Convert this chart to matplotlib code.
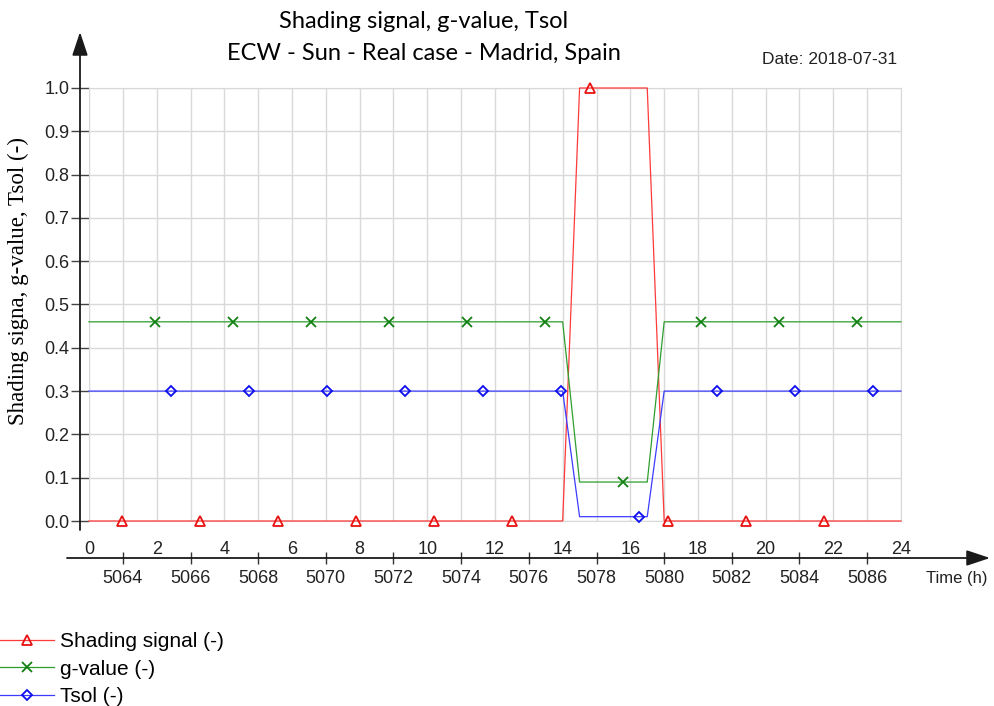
import numpy as np
import matplotlib
matplotlib.use("Agg")
import matplotlib.pyplot as plt
from matplotlib.lines import Line2D
from matplotlib.ticker import FormatStrFormatter, MultipleLocator

# hour of day and the three signals for 2018-07-31
hours = [0, 14, 14.5, 16.5, 17, 24]
shading = [0, 0, 1, 1, 0, 0]
g_value = [0.46, 0.46, 0.09, 0.09, 0.46, 0.46]
tsol = [0.30, 0.30, 0.01, 0.01, 0.30, 0.30]
labels = ["Shading signal (-)", "g-value (-)", "Tsol (-)"]
year_hour0 = 5063  # hour of year at 00:00

W, H = 994, 706


def fx(x):
    return x / W


def fy(y):
    return 1 - y / H


plt.rcParams["font.family"] = ["Liberation Sans", "DejaVu Sans"]

fig = plt.figure(figsize=(W / 100, H / 100), dpi=100)
ax = fig.add_axes([fx(89), fy(521), (901 - 89) / W, (521 - 88) / H])

# line colour, marker colour, marker, size, first marker hour
styles = [
    ("#ff3a3a", "#e81010", "^", 7, 0.975),
    ("#2e9e2e", "#128012", "x", 7, 1.951),
    ("#3c3cff", "#0c0cee", "D", 5.5, 2.424),
]
mark_step = 2.306

handles = []
for ys, lab, (lc, mc, mk, ms, m0) in zip([shading, g_value, tsol], labels, styles):
    ax.plot(hours, ys, color=lc, lw=0.9, clip_on=False, zorder=3)
    mx = np.arange(m0, 24, mark_step)
    my = np.interp(mx, hours, ys)
    ax.plot(mx, my, ls="none", marker=mk, ms=ms, mfc="none", mec=mc,
            mew=1.3, clip_on=False, zorder=4)
    handles.append(Line2D([], [], color=lc, lw=0.9, marker=mk, ms=ms,
                          mfc="none", mec=mc, mew=1.3))

ax.set_xlim(0, 24)
ax.set_ylim(0, 1)
ax.xaxis.set_major_locator(MultipleLocator(2))
ax.xaxis.set_minor_locator(MultipleLocator(1))
ax.yaxis.set_major_locator(MultipleLocator(0.1))
ax.yaxis.set_major_formatter(FormatStrFormatter("%.1f"))
ax.grid(True, which="both", color="#d9d9d9", lw=1)
ax.set_axisbelow(True)
for s in ax.spines.values():
    s.set_color("#d9d9d9")
ax.tick_params(axis="x", which="both", length=0, pad=14.5, labelsize=13,
               labelcolor="#222222")
ax.tick_params(axis="y", direction="out", length=13, width=1,
               color="#444444", pad=1, labelsize=13, labelcolor="#222222")

# hour-of-year axis below the hour-of-day labels
sec = ax.secondary_xaxis(-(558 - 521) / 433,
                         functions=(lambda h: h + year_hour0,
                                    lambda t: t - year_hour0))
sec.set_xticks(np.arange(5064, 5087, 2))
sec.spines["bottom"].set_visible(False)
sec.tick_params(direction="inout", length=8.5, width=1, color="#333333",
                pad=4.5, labelsize=13, labelcolor="#222222")

# axis arrows
arrow = dict(arrowstyle="-|>,head_length=1.2,head_width=0.4", color="#1a1a1a",
             lw=1.3, shrinkA=0, shrinkB=0)
fig.add_artist(matplotlib.patches.FancyArrowPatch(
    (fx(80), fy(530)), (fx(80), fy(32)), transform=fig.transFigure,
    mutation_scale=12, **arrow))
fig.add_artist(matplotlib.patches.FancyArrowPatch(
    (fx(67), fy(558)), (fx(990), fy(558)), transform=fig.transFigure,
    mutation_scale=12, **arrow))

fig.text(fx(988), fy(578), "Time (h)", ha="right", va="center", fontsize=12,
         color="#222222")
fig.text(fx(18), fy(281), "Shading signa, g-value, Tsol (-)",
         rotation=90, ha="center", va="center", fontsize=16.5,
         family=["Liberation Serif", "DejaVu Serif"])

fig.text(fx(424), fy(21), "Shading signal, g-value, Tsol", ha="center",
         va="center", fontsize=17, family=["Lato", "DejaVu Sans"])
fig.text(fx(424), fy(53), "ECW - Sun - Real case - Madrid, Spain", ha="center",
         va="center", fontsize=17, family=["Lato", "DejaVu Sans"])
fig.text(fx(897), fy(60), "Date: 2018-07-31", ha="right", va="center",
         fontsize=12.5, color="#222222")

fig.legend(handles, labels, loc="upper left", bbox_to_anchor=(0, fy(632)),
           frameon=False, fontsize=15, handlelength=2.6, handletextpad=0.3,
           borderpad=0, borderaxespad=0, labelspacing=0.42)

fig.savefig("out.png", dpi=100)
